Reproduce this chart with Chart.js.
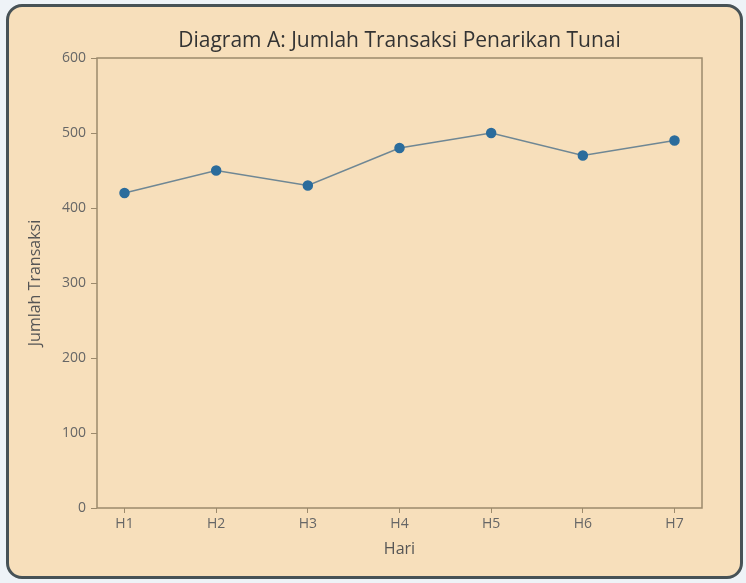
<!DOCTYPE html>
<html>
<head>
<meta charset="utf-8">
<script src="https://cdn.jsdelivr.net/npm/chart.js@4"></script>
<style>
  html, body { margin: 0; padding: 0; background: #eef3f7; }
  #wrap { position: relative; width: 746px; height: 583px; }
  #card {
    position: absolute; left: 6px; top: 4px; width: 731px; height: 569px;
    border: 3px solid #475256; border-radius: 16px; background: #f7dfbb;
  }
  #myChart { position: absolute; left: 0; top: 0; }
</style>
</head>
<body>
<div id="wrap">
  <div id="card"></div>
  <canvas id="myChart" width="746" height="583"></canvas>
</div>
<script>
const hari = ['H1', 'H2', 'H3', 'H4', 'H5', 'H6', 'H7']
const transaksi = [420, 450, 430, 480, 500, 470, 490]
const yTicks = [0, 100, 200, 300, 400, 500, 600]
const judul = 'Diagram A: Jumlah Transaksi Penarikan Tunai'

// frame round the plot and the title centred over the plot area
const frame = {
  id: 'frame',
  afterDatasetsDraw(chart) {
    const a = chart.chartArea
    const c = chart.ctx
    c.save()
    c.strokeStyle = '#9c8a6c'
    c.lineWidth = 1.5
    c.strokeRect(a.left, a.top, a.right - a.left, a.bottom - a.top)
    c.fillStyle = '#333333'
    c.font = '21px "Open Sans"'
    c.textAlign = 'center'
    c.textBaseline = 'middle'
    c.fillText(judul, (a.left + a.right) / 2, a.top - 17)
    c.restore()
  }
}

const ctx = document.getElementById('myChart')
new Chart(ctx, {
  type: 'line',
  data: {
    datasets: [{
      label: 'Jumlah Transaksi',
      data: transaksi.map((v, i) => ({ x: i, y: v })),
      borderColor: '#6f8794',
      borderWidth: 1.5,
      pointBackgroundColor: '#2b6c9c',
      pointBorderColor: '#2b6c9c',
      pointRadius: 4.5,
      tension: 0
    }]
  },
  options: {
    responsive: false,
    animation: false,
    layout: { padding: { left: 0, right: 44, top: 58, bottom: 20 } },
    plugins: {
      legend: { display: false },
      tooltip: { enabled: false },
      title: { display: false }
    },
    scales: {
      x: {
        type: 'linear',
        min: -0.3,
        max: hari.length - 0.7,
        afterBuildTicks: s => { s.ticks = hari.map((_, i) => ({ value: i })) },
        afterFit: s => { s.height = 55 },
        ticks: {
          callback: v => hari[v],
          color: '#666666',
          font: { family: 'Open Sans', size: 14 },
          padding: 3
        },
        grid: { drawOnChartArea: false, tickLength: 5, color: '#9c8a6c' },
        border: { display: false },
        title: {
          display: true, text: 'Hari', color: '#555555',
          font: { family: 'Open Sans', size: 16 }, padding: { top: 0 }
        }
      },
      y: {
        min: 0,
        max: 600,
        afterBuildTicks: s => { s.ticks = yTicks.map(v => ({ value: v })) },
        afterFit: s => { s.width = 97 },
        ticks: {
          color: '#666666',
          font: { family: 'Open Sans', size: 14 },
          padding: 5
        },
        grid: { drawOnChartArea: false, tickLength: 6, color: '#9c8a6c' },
        border: { display: false },
        title: {
          display: true, text: 'Jumlah Transaksi', color: '#555555',
          font: { family: 'Open Sans', size: 16 }, padding: { top: 26 }
        }
      }
    }
  },
  plugins: [frame]
})
</script>
</body>
</html>
